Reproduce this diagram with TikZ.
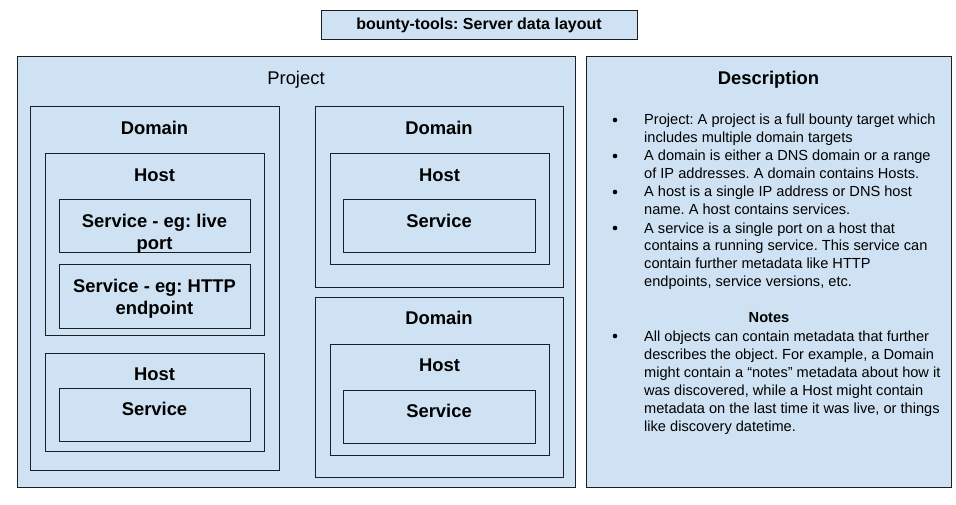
\documentclass[tikz,border=0pt]{standalone}
\usepackage{fontspec}
\setmainfont{Liberation Sans}
\usepackage{tikz}
\usetikzlibrary{positioning,calc}
\definecolor{boxblue}{HTML}{CFE2F3}
\definecolor{boxline}{HTML}{1B1F24}
\frenchspacing

\begin{document}
\begin{tikzpicture}[x=1pt,y=-1pt,
    box/.style={draw=boxline,fill=boxblue,line width=1pt,anchor=north west,inner sep=0pt,outer sep=0pt},
    lbl/.style={font=\fontsize{18.4}{22}\selectfont\bfseries,align=center,anchor=base,inner sep=0pt},
    item/.style={font=\fontsize{14.6}{18}\selectfont,align=left,anchor=base west,inner sep=0pt},
    dot/.style={circle,fill=black,inner sep=0pt,minimum size=4.6pt}]
  \useasboundingbox (0,0) rectangle (956,505);
  % title
  \node[box,minimum width=316pt,minimum height=29pt,anchor=north west,font=\fontsize{16}{19}\selectfont\bfseries] (title) at (321,11) {bounty-tools: Server data layout};
  % outer boxes
  \node[box,minimum width=558pt,minimum height=430pt] (proj) at (17,57) {};
  \node[box,minimum width=365pt,minimum height=430pt] (desc) at (586,57) {};
  \node[lbl,font=\fontsize{18.4}{22}\selectfont] (projL) at ($(proj.north)+(0,27.5)$) {Project};
  \node[lbl] (descL) at ($(desc.north)+(0,27.5)$) {Description};
  % left domain
  \node[box,minimum width=249pt,minimum height=363pt] (dom1) at (30,107) {};
  \node[lbl] (dom1L) at ($(dom1.north)+(0,27.5)$) {Domain};
  \node[box,minimum width=219pt,minimum height=181pt] (host1) at (45,154) {};
  \node[lbl] (host1L) at ($(host1.north)+(0,27.5)$) {Host};
  \node[box,minimum width=191pt,minimum height=53pt] (svc1) at (59,200) {};
  \node[lbl] (svc1L) at ($(svc1.north)+(0,49.5)$) {Service - eg: live\\port};
  \node[box,minimum width=191pt,minimum height=63pt] (svc2) at (59,265) {};
  \node[lbl] (svc2L) at ($(svc2.north)+(0,49.5)$) {Service - eg: HTTP\\endpoint};
  \node[box,minimum width=219pt,minimum height=98pt] (host2) at (45,353) {};
  \node[lbl] (host2L) at ($(host2.north)+(0,27.5)$) {Host};
  \node[box,minimum width=191pt,minimum height=53pt] (svc3) at (59,388) {};
  \node[lbl] (svc3L) at ($(svc3.north)+(0,27.5)$) {Service};
  % right domains
  \node[box,minimum width=248pt,minimum height=180pt] (dom2) at (315,107) {};
  \node[lbl] (dom2L) at ($(dom2.north)+(0,27.5)$) {Domain};
  \node[box,minimum width=219pt,minimum height=111pt] (host3) at (330,154) {};
  \node[lbl] (host3L) at ($(host3.north)+(0,27.5)$) {Host};
  \node[box,minimum width=192pt,minimum height=53pt] (svc4) at (343,200) {};
  \node[lbl] (svc4L) at ($(svc4.north)+(0,27.5)$) {Service};
  \node[box,minimum width=248pt,minimum height=180pt] (dom3) at (315,297) {};
  \node[lbl] (dom3L) at ($(dom3.north)+(0,27.5)$) {Domain};
  \node[box,minimum width=219pt,minimum height=111pt] (host4) at (330,344) {};
  \node[lbl] (host4L) at ($(host4.north)+(0,27.5)$) {Host};
  \node[box,minimum width=192pt,minimum height=53pt] (svc5) at (343,390) {};
  \node[lbl] (svc5L) at ($(svc5.north)+(0,27.5)$) {Service};
  % description text (base = last line)
  \node[item] (d1) at (644,143) {Project: A project is a full bounty target which\\includes multiple domain targets};
  \node[item] (d2) at (644,179) {A domain is either a DNS domain or a range\\of IP addresses. A domain contains Hosts.};
  \node[item] (d3) at (644,215) {A host is a single IP address or DNS host\\name. A host contains services.};
  \node[item] (d4) at (644,287) {A service is a single port on a host that\\contains a running service. This service can\\contain further metadata like HTTP\\endpoints, service versions, etc.};
  \node[lbl,font=\fontsize{14.6}{18}\selectfont\bfseries] (notesL) at (769,322) {Notes};
  \node[item] (n1) at (644,431) {All objects can contain metadata that further\\describes the object. For example, a Domain\\might contain a “notes” metadata about how it\\was discovered, while a Host might contain\\metadata on the last time it was live, or things\\like discovery datetime.};
  \foreach \i/\y in {b1/120,b2/156,b3/192,b4/228,b5/336}
    \node[dot] (\i) at (615,\y) {};
\end{tikzpicture}
\end{document}
